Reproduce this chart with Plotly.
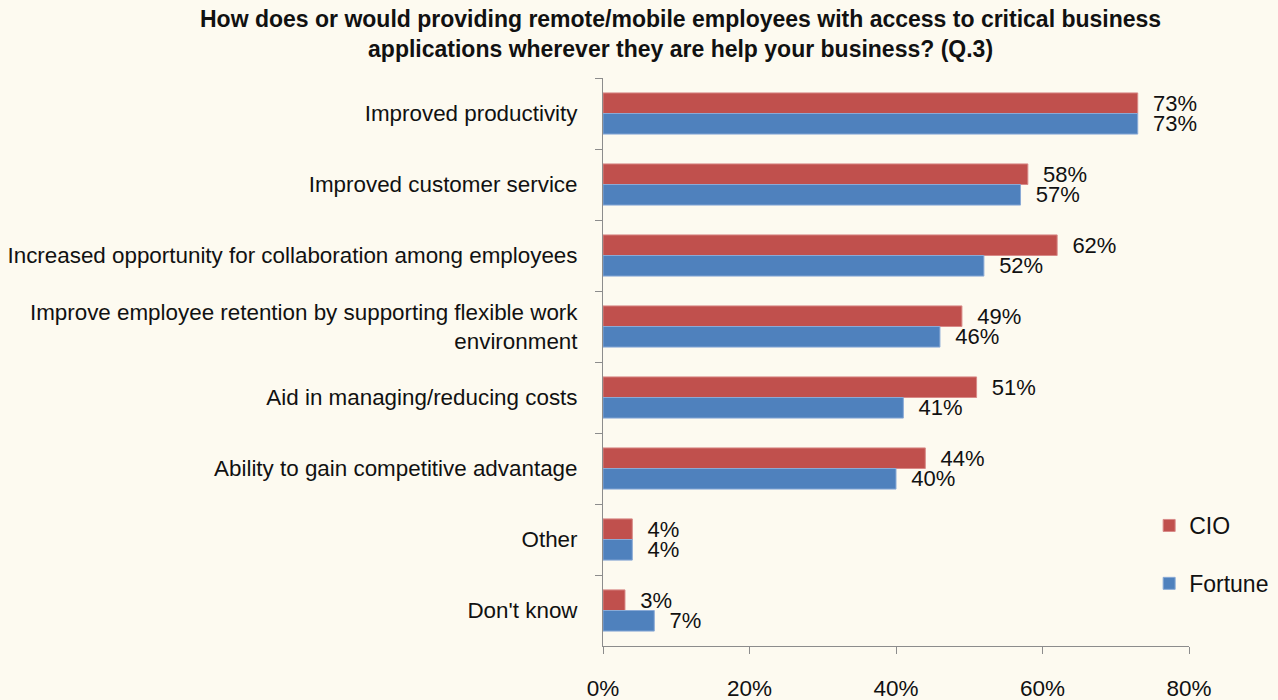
import plotly.graph_objects as go

categories = [
    "Improved productivity",
    "Improved customer service",
    "Increased opportunity for collaboration among employees",
    "Improve employee retention by supporting flexible work<br>environment",
    "Aid in managing/reducing costs",
    "Ability to gain competitive advantage",
    "Other",
    "Don't know",
]
cio = [73, 58, 62, 49, 51, 44, 4, 3]
fortune = [73, 57, 52, 46, 41, 40, 4, 7]
x_ticks = [0, 20, 40, 60, 80]
title_lines = [
    "How does or would providing remote/mobile employees with access to critical business",
    "applications wherever they are help your business? (Q.3)",
]

BG = "#FDFAF0"
FONT = "Liberation Sans"
PAD = "\u00a0\u00a0"

fig = go.Figure()
fig.add_trace(go.Bar(
    y=categories, x=cio, name="CIO", orientation="h",
    marker=dict(color="#C0504D", line=dict(color="#D88A88", width=1)),
    text=[f"{PAD}{v}%" for v in cio], textposition="outside", constraintext="none",
    textfont=dict(family=FONT, size=22, color="#111111"),
    cliponaxis=False, legendgroup="a",
))
fig.add_trace(go.Bar(
    y=categories, x=fortune, name="Fortune", orientation="h",
    marker=dict(color="#4F81BD", line=dict(color="#8AAAD6", width=1)),
    text=[f"{PAD}{v}%" for v in fortune], textposition="outside", constraintext="none",
    textfont=dict(family=FONT, size=22, color="#111111"),
    cliponaxis=False, legendgroup="b",
))

fig.update_layout(
    width=1278, height=700,
    paper_bgcolor=BG, plot_bgcolor=BG,
    margin=dict(l=603, r=89, t=78, b=54, autoexpand=False),
    barmode="group", bargap=0.42, bargroupgap=0,
    font=dict(family=FONT, size=18, color="#111111"),
    legend=dict(
        x=0.932, y=0.25, xanchor="left", yanchor="top",
        bgcolor="rgba(0,0,0,0)", font=dict(family=FONT, size=23),
        tracegroupgap=25, traceorder="grouped",
    ),
    showlegend=True,
)
fig.add_annotation(
    text="<br>".join(title_lines), xref="paper", yref="paper",
    x=(680 - 603) / 586, y=(646 - 34) / 568, xanchor="center", yanchor="middle",
    showarrow=False, align="center",
    font=dict(family=FONT, size=23, color="#111111", weight="bold"),
)
fig.update_xaxes(
    range=[0, 80], tickvals=x_ticks, ticktext=[f"{v}%" for v in x_ticks],
    showgrid=False, zeroline=False, showline=True, linecolor="#8C8C8C", linewidth=1,
    ticks="outside", ticklen=7, tickcolor="#8C8C8C", automargin=False,
    tickfont=dict(family=FONT, size=22.5, color="#111111"), ticklabelstandoff=15,
)
fig.update_yaxes(
    autorange="reversed", type="category", tickson="boundaries",
    showgrid=False, showline=True, linecolor="#8C8C8C", linewidth=1,
    ticks="outside", ticklen=7, tickcolor="#8C8C8C", automargin=False,
    tickfont=dict(family=FONT, size=22.4, color="#111111"), ticklabelstandoff=20,
)

fig.write_html("out.html")
